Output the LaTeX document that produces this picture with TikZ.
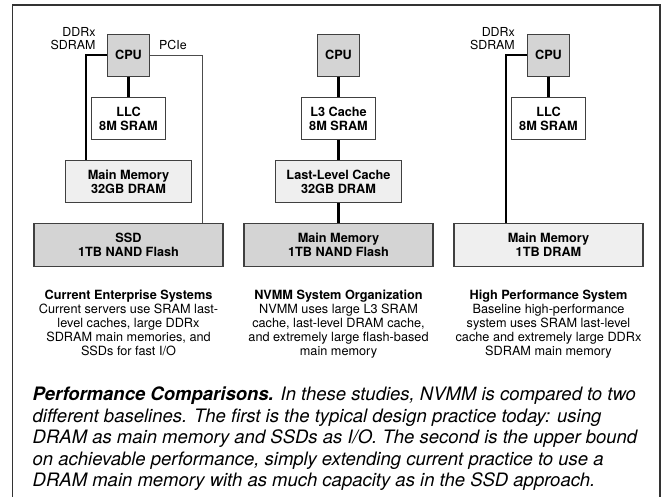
\documentclass[tikz,border=0pt]{standalone}
\usepackage{fontspec}
\setmainfont{TeX Gyre Heros}
\usetikzlibrary{positioning}
\definecolor{chipgray}{HTML}{D4D4D4}
\definecolor{memgray}{HTML}{EFEFEF}

\begin{document}
\begin{tikzpicture}[x=1pt,y=-1pt,
  box/.style={draw=black!75,line width=1.1pt,inner sep=0pt,align=center,font=\fontsize{12.7}{14.5}\selectfont\bfseries},
  cpu/.style={box,fill=chipgray,minimum width=42pt,minimum height=42pt},
  sram/.style={box,fill=white,minimum width=73.5pt,minimum height=42pt},
  dram/.style={box,fill=memgray,minimum width=126pt,minimum height=42pt},
  store/.style={box,minimum width=189pt,minimum height=42.7pt},
  bus/.style={line width=2.6pt},
  pcie/.style={line width=1pt,black!70},
  lbl/.style={font=\fontsize{12.4}{13}\selectfont,inner sep=0pt,align=right},
  caption/.style={font=\fontsize{12.7}{14}\selectfont,inner sep=0pt,align=center,anchor=north}]
\useasboundingbox (0,0) rectangle (663,497);
\draw[black!80,line width=1.3pt] (12.7,497) -- (12.7,5) -- (660,5) -- (660,497);

\node[cpu] (cpuA) at (128.5,55.2) {CPU};
\node[sram] (llcA) at (128.5,118.8) {LLC\\8M SRAM};
\node[dram] (mmA) at (128.5,181.7) {Main Memory\\32GB DRAM};
\node[store,fill=chipgray] (ssdA) at (128.5,244.7) {SSD\\1TB NAND Flash};
\coordinate (ddrA) at (86,55.2);
\coordinate (pcieA) at (202,55.2);
\draw[bus] (cpuA) -- (llcA);
\draw[bus] (cpuA.west) -- (ddrA) -- (ddrA |- mmA.north);
\draw[pcie] (cpuA.east) -- (pcieA) -- (pcieA |- ssdA.north);
\node[lbl,anchor=east] (ddrlblA) at (95.7,38.5) {DDRx\\SDRAM};
\node[lbl,anchor=west] (pcielbl) at (159,45) {PCIe};

\node[cpu] (cpuB) at (338.5,55.2) {CPU};
\node[sram] (l3B) at (338.5,118.8) {L3 Cache\\8M SRAM};
\node[dram] (llcB) at (338.5,181.7) {Last-Level Cache\\32GB DRAM};
\node[store,fill=chipgray] (mmB) at (338.5,244.7) {Main Memory\\1TB NAND Flash};
\foreach \a/\b in {cpuB/l3B,l3B/llcB,llcB/mmB}
  \draw[bus] (\a) -- (\b);

\node[cpu] (cpuC) at (548.5,55.2) {CPU};
\node[sram] (llcC) at (548.5,118.8) {LLC\\8M SRAM};
\node[store,fill=memgray] (mmC) at (548.5,244.7) {Main Memory\\1TB DRAM};
\coordinate (ddrC) at (506,55.2);
\draw[bus] (cpuC) -- (llcC);
\draw[bus] (cpuC.west) -- (ddrC) -- (ddrC |- mmC.north);
\node[lbl,anchor=east] (ddrlblC) at (515,38.5) {DDRx\\SDRAM};

\node[caption] (capA) at (128.5,290) {\textbf{Current Enterprise Systems}\\Current servers use SRAM last-\\level caches, large DDRx\\SDRAM main memories, and\\SSDs for fast I/O};
\node[caption] (capB) at (338.5,290) {\textbf{NVMM System Organization}\\NVMM uses large L3 SRAM\\cache, last-level DRAM cache,\\and extremely large flash-based\\main memory};
\node[caption] (capC) at (548.5,290) {\textbf{High Performance System}\\Baseline high-performance\\system uses SRAM last-level\\cache and extremely large DDRx\\SDRAM main memory};

\node[anchor=north west,inner sep=0pt,align=left,font=\fontsize{18.5}{21.5}\selectfont\itshape] (perf) at (32.5,387) {\textbf{Performance Comparisons.} In these studies, NVMM is compared to two\\different baselines. The first is the typical design practice today: using\\DRAM as main memory and SSDs as I/O. The second is the upper bound\\on achievable performance, simply extending current practice to use a\\DRAM main memory with as much capacity as in the SSD approach.};
\end{tikzpicture}
\end{document}
